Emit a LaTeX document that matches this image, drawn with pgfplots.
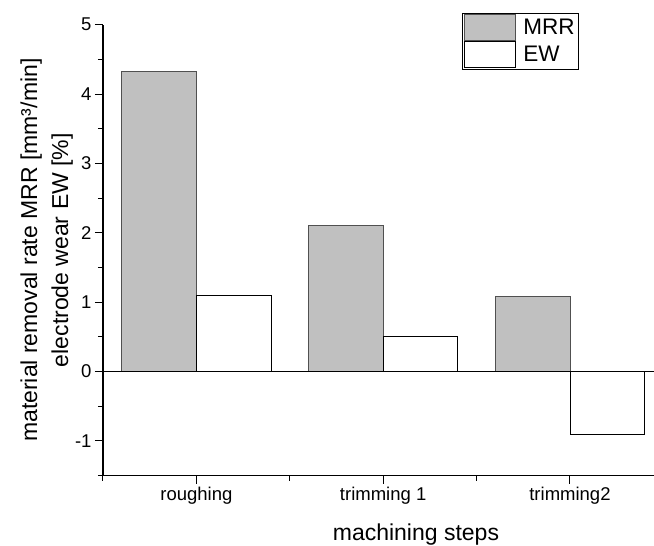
\documentclass[border=0pt]{standalone}
\usepackage{fontspec}
\setmainfont{Liberation Sans}
\usepackage{pgfplots}
\pgfplotsset{compat=1.18}
\usetikzlibrary{calc}
\definecolor{barfill}{HTML}{C0C0C0}
\definecolor{baredge}{HTML}{505050}
\begin{document}
\begin{tikzpicture}
\begin{axis}[
  scale only axis,
  width=551pt, height=451pt,
  xmin=-0.5, xmax=2.45,
  ymin=-1.5, ymax=5,
  axis lines=left,
  axis line style={-, line width=1.1pt},
  ybar,
  bar width=0.4,
  xtick={0,1,2},
  xticklabels={roughing,trimming 1,trimming2},
  minor xtick={-0.5,0.5,1.5},
  ytick={-1,0,1,2,3,4,5},
  minor ytick={-1.5,-0.5,0.5,1.5,2.5,3.5,4.5},
  tick align=outside,
  major tick length=8pt,
  minor tick length=5pt,
  tick style={black, line width=1pt},
  /pgf/number format/assume math mode=true,
  ticklabel style={font=\fontsize{18.5}{22}\selectfont},
  xlabel={machining steps},
  xlabel style={at={(axis description cs:0.568,-0.1448)}, anchor=base, font=\fontsize{23}{27}\selectfont},
  ylabel={material removal rate MRR [mm³/min]\\electrode wear EW [\%]},
  ylabel style={at={(axis description cs:-0.0544,0.5)}, anchor=south, rotate=0, align=center, inner sep=0pt, font=\fontsize{23}{31}\selectfont},
  legend style={at={(axis description cs:0.6515,1.026)}, anchor=north west, draw=black, line width=0.8pt,
    font=\fontsize{22.5}{27}\selectfont, inner xsep=2pt, inner ysep=1pt, row sep=0pt, column sep=6pt,
    nodes={inner sep=1.2pt, anchor=west}},
  legend cell align=left,
  clip=false,
]
\addplot[fill=barfill, draw=baredge, line width=0.9pt, bar shift=-0.2,
  legend image code/.code={\draw[fill=barfill, draw=baredge, line width=0.9pt] (0pt,-13pt) rectangle (51pt,13pt);}]
  coordinates {(0,4.32) (1,2.10) (2,1.08)};
\addlegendentry{MRR}
\addplot[fill=white, draw=black, line width=0.9pt, bar shift=0.2,
  legend image code/.code={\draw[fill=white, draw=black, line width=0.9pt] (0pt,-13pt) rectangle (51pt,13pt);}]
  coordinates {(0,1.10) (1,0.50) (2,-0.90)};
\addlegendentry{EW}
\draw[black, line width=1.1pt] (axis cs:-0.5,0) -- (axis cs:2.45,0);
\end{axis}
\pgfresetboundingbox
\path[use as bounding box] ($(current axis.south west)+(-103pt,-70.3pt)$) rectangle ($(current axis.north east)+(0pt,24.7pt)$);
\end{tikzpicture}
\end{document}
